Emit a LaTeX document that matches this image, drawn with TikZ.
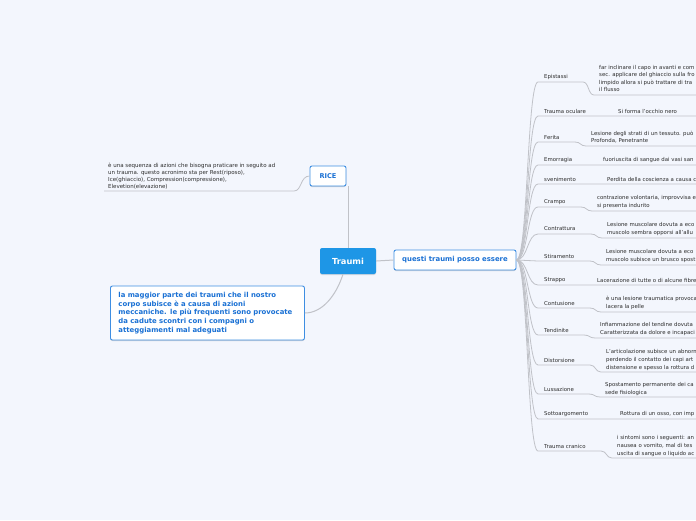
\documentclass[tikz,border=0pt]{standalone}
\usepackage{fontspec}
\setmainfont{DejaVu Sans}
\usetikzlibrary{shadows}
\definecolor{bg}{RGB}{243,246,253}
\definecolor{ln}{RGB}{192,194,200}
\definecolor{rootfill}{RGB}{30,150,230}
\definecolor{bt}{RGB}{25,112,212}
\definecolor{bd}{RGB}{62,142,226}
\definecolor{tx}{RGB}{45,45,45}
\tikzset{
  conn/.style={draw=ln, line width=0.8pt},
  rootbox/.style={fill=rootfill, rounded corners=2pt, text=white, font=\fontsize{8.3}{10}\bfseries\selectfont, minimum width=56pt, minimum height=26pt, inner sep=0pt, drop shadow={shadow xshift=0pt, shadow yshift=-1pt, opacity=0.25}},
  bluebox/.style={draw=bd, fill=white, line width=0.9pt, rounded corners=2pt, text=bt, inner sep=0pt, drop shadow={shadow xshift=0pt, shadow yshift=-1pt, opacity=0.3}},
  lbl/.style={anchor=west, inner sep=0pt, text=tx, font=\fontsize{5.4}{7.8}\selectfont},
  det/.style={anchor=west, inner sep=0pt, text=tx, align=left, font=\fontsize{5.4}{7.6}\selectfont},
}
% #1 id, #2 label, #3 label y, #4 detail x, #5 detail centre y, #6 detail underline y, #7 text
\newcommand\mmchild[7]{%
  \node[lbl] (l#1) at (544,#3) {#2};
  \node[det] (d#1) at (#4,#5) {#7};
  \coordinate (u#1) at (538,{#3+5});
  \coordinate (v#1) at ({#4-16},{#3+5});
  \coordinate (w#1) at ({#4-5},#6);
  \coordinate (e#1) at (700,#6);
  \draw[conn] (q.east) .. controls (528,260) and (527,{#3+5}) .. (u#1) -- (v#1)
     .. controls ({#4-10},{#3+5}) and ({#4-11},#6) .. (w#1) -- (e#1);
}
\begin{document}
\begin{tikzpicture}[x=1pt,y=-1pt]
\fill[bg] (0,0) rectangle (696,520);
\useasboundingbox (0,0) rectangle (696,520);

% central nodes
\node[rootbox] (traumi) at (348,261) {Traumi};
\node[bluebox, minimum width=122pt, minimum height=20pt, font=\fontsize{6.9}{8}\bfseries\selectfont] (q) at (455,260) {questi traumi posso essere};
\node[bluebox, minimum width=36pt, minimum height=20pt, font=\fontsize{6.6}{8}\bfseries\selectfont] (rice) at (328,176) {RICE};
\node[bluebox, minimum width=192pt, minimum height=54pt, anchor=west, align=left, text width=178pt, inner xsep=8pt, font=\fontsize{6.9}{8.6}\bfseries\selectfont] (maggior) at (110,313) {la maggior parte dei traumi che il nostro\\corpo subisce è a causa di azioni\\meccaniche. le più frequenti sono provocate\\da cadute scontri con i compagni o\\atteggiamenti mal adeguati};

% RICE description
\node[det, font=\fontsize{5.5}{6.9}\selectfont] (ricedesc) at (108,176) {è una sequenza di azioni che bisogna praticare in seguito ad\\un trauma. questo acronimo sta per Rest(riposo),\\Ice(ghiaccio), Compression(compressione),\\Elevetion(elevazione)};
\coordinate (r1) at (294,191);
\coordinate (r2) at (104,191);
\draw[conn] (rice.west) .. controls (300,176) and (302,191) .. (r1) -- (r2);

% root connectors
\draw[conn, line width=1pt] (traumi.north) -- (rice.south -| traumi.north);
\draw[conn, line width=1pt] (traumi.east) -- (q.west);
\draw[conn, line width=1pt] ([xshift=-5pt]traumi.south) .. controls (336,296) and (322,313) .. (maggior.east);

% right-hand children
\mmchild{1}{Epistassi}{77}{599}{78.5}{95}{far inclinare il capo in avanti e com\\sec. applicare del ghiaccio sulla fro\\limpido allora si può trattare di tra\\il flusso}
\mmchild{2}{Trauma oculare}{111}{618}{111}{116}{Si forma l'occhio nero}
\mmchild{3}{Ferita}{137}{591}{137}{146}{Lesione degli strati di un tessuto. può\\Profonda, Penetrante}
\mmchild{4}{Emorragia}{160}{603}{160}{165}{fuoriuscita di sangue dai vasi san}
\mmchild{5}{svenimento}{179}{607}{179}{184}{Perdita della coscienza a causa c}
\mmchild{6}{Crampo}{202}{597}{202}{211}{contrazione volontaria, improvvisa e\\si presenta indurito}
\mmchild{7}{Contrattura}{229}{607}{229}{238}{Lesione muscolare dovuta a eco\\muscolo sembra  opporsi all'allu}
\mmchild{8}{Stiramento}{256}{606}{256}{265}{Lesione muscolare dovuta a eco\\muscolo subisce un brusco spost}
\mmchild{9}{Strappo}{280}{597}{280}{285}{Lacerazione di tutte o di alcune fibre}
\mmchild{10}{Contusione}{303}{606}{303}{312}{è una lesione traumatica provoca\\lacera la pelle}
\mmchild{11}{Tendinite}{330}{600}{329}{338}{Infiammazione del tendine dovuta\\Caratterizzata da dolore e incapaci}
\mmchild{12}{Distorsione}{360}{606}{360}{372}{L'articolazione subisce un abnorm\\perdendo il contatto dei  capi art\\distensione e spesso la rottura d}
\mmchild{13}{Lussazione}{389}{605}{389}{397}{Spostamento permanente dei ca\\sede fisiologica}
\mmchild{14}{Sottoargomento}{414}{620}{414}{419}{Rottura di un osso, con imp}
\mmchild{15}{Trauma cranico}{446}{617}{446}{458}{i sintomi sono i seguenti: an\\nausea o  vomito, mal di tes\\uscita di sangue o liquido ac}
\end{tikzpicture}
\end{document}
